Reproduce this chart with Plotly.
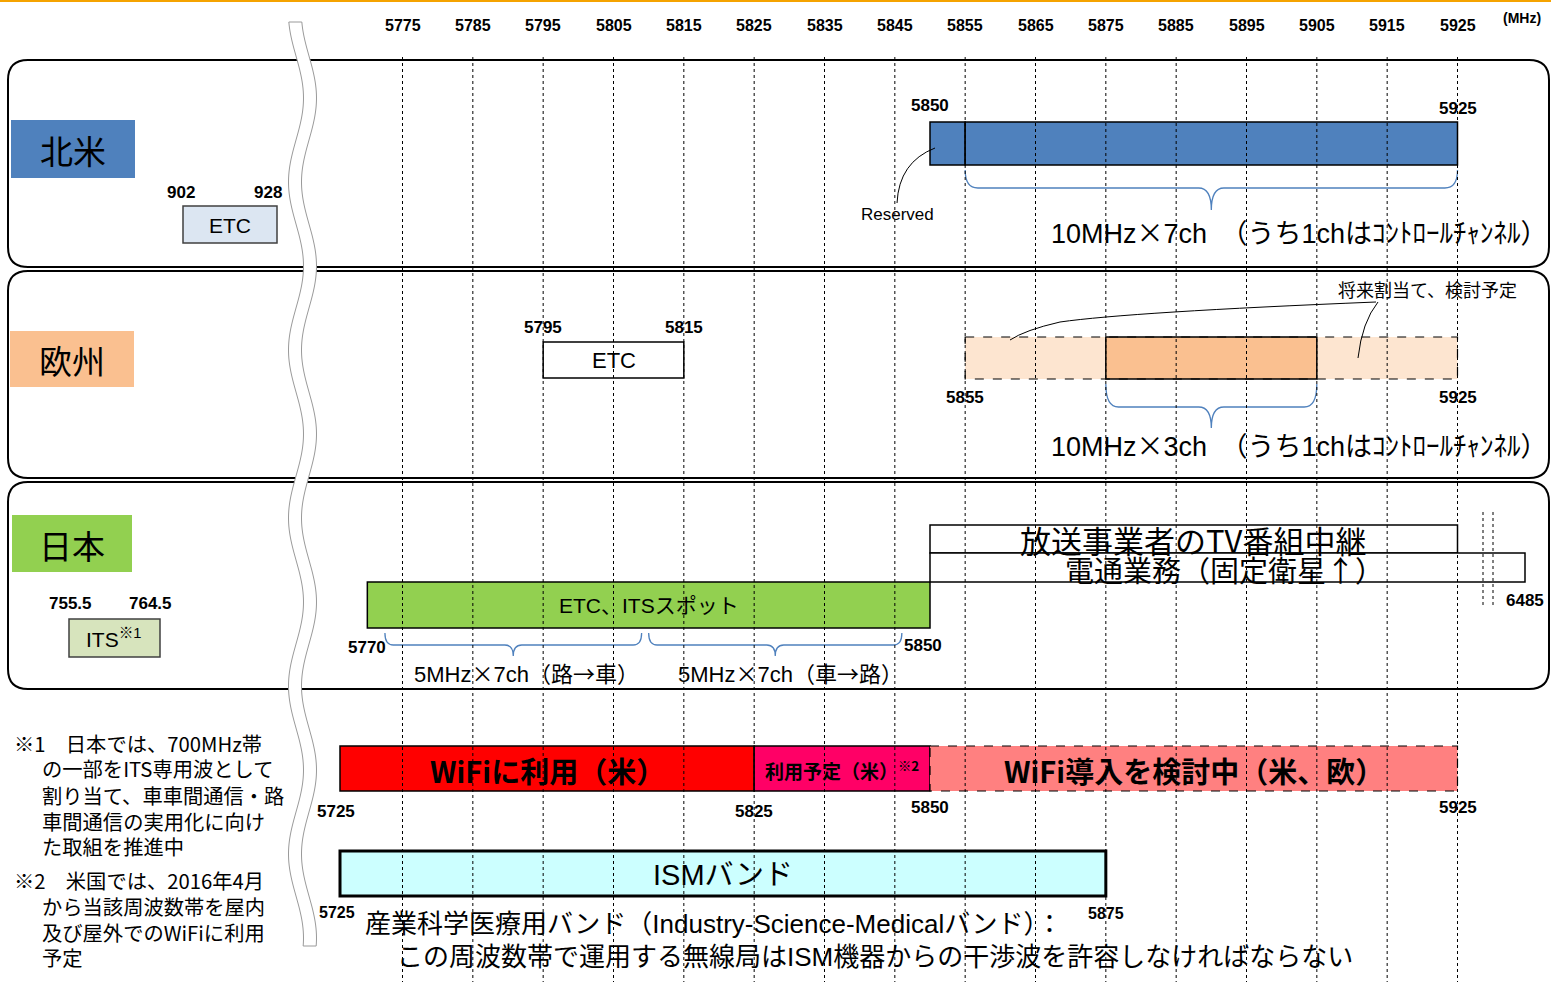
import numpy as np
import plotly.graph_objects as go

# ---------------- data ----------------
TICKS = [5775, 5785, 5795, 5805, 5815, 5825, 5835, 5845, 5855, 5865, 5875, 5885, 5895, 5905, 5915, 5925]
UNIT = "(MHz)"

REGIONS = ["北米", "欧州", "日本"]

TIMES = '<span style="font-family:Noto Sans CJK JP">×</span>'
ARROW = '<span style="font-family:Noto Sans CJK JP">→</span>'

NA_ETC_LOW = [902, 928]
NA_RESERVED = [5850, 5855]
NA_DSRC = [5855, 5925]
NA_CH_TEXT = "10MHz" + TIMES + "7ch　（うち1chはｺﾝﾄﾛｰﾙﾁｬﾝﾈﾙ）"

EU_ETC = [5795, 5815]
EU_CANDIDATE = [5855, 5925]
EU_DSRC = [5875, 5905]
EU_CH_TEXT = "10MHz" + TIMES + "3ch　（うち1chはｺﾝﾄﾛｰﾙﾁｬﾝﾈﾙ）"
EU_NOTE = "将来割当て、検討予定"

JP_ITS_700 = [755.5, 764.5]
JP_ETC = [5770, 5850]
JP_DOWNLINK = [5772.5, 5809]
JP_UPLINK = [5810, 5846]
JP_TV_RELAY = [5850, 5925]
JP_SATELLITE = [5850, 6485]
JP_TEXTS = ["ETC、ITSスポット",
            "5MHz" + TIMES + "7ch（路" + ARROW + "車）",
            "5MHz" + TIMES + "7ch（車" + ARROW + "路）",
            "放送事業者のTV番組中継", "電通業務（固定衛星↑）"]

WIFI_US = [5725, 5825]
WIFI_US_PLAN = [5825, 5850]
WIFI_STUDY = [5850, 5925]
WIFI_TEXTS = ["WiFiに利用（米）", "利用予定（米）<sup>※2</sup>", "WiFi導入を検討中（米、欧）"]

ISM = [5725, 5875]
ISM_TEXTS = ["ISMバンド",
             "産業科学医療用バンド（Industry-Science-Medicalバンド）：",
             "この周波数帯で運用する無線局はISM機器からの干渉波を許容しなければならない"]

FOOTNOTES = [("※1　日本では、700MHz帯", 0), ("の一部をITS専用波として", 1), ("割り当て、車車間通信・路", 1),
             ("車間通信の実用化に向け", 1), ("た取組を推進中", 1),
             ("※2　米国では、2016年4月", 0), ("から当該周波数帯を屋内", 1), ("及び屋外でのWiFiに利用", 1),
             ("予定", 1)]

# ---------------- scale (broken axis) ----------------
W, H = 1551, 982
PX0, PXM = 402.5, (1457.5 - 402.5) / 150.0


def PX(px):
    """pixel -> axis coordinate (for decorative layout only)"""
    return 5775 + (px - PX0) / PXM


LOW_BREAK, HIGH_BREAK = 5770, 5930
LOW_K = (LOW_BREAK - PX(340)) / (LOW_BREAK - 5725)
HIGH_K = (PX(1525) - HIGH_BREAK) / (6485 - HIGH_BREAK)


def X(f):
    """frequency -> axis coordinate, compressed beyond the breaks"""
    if f < LOW_BREAK:
        return LOW_BREAK - (LOW_BREAK - f) * LOW_K
    if f > HIGH_BREAK:
        return HIGH_BREAK + (f - HIGH_BREAK) * HIGH_K
    return f


FN = "Liberation Sans, Arial, Noto Sans CJK JP"
FJ = "Noto Sans CJK JP, Liberation Sans"

fig = go.Figure()
shapes = []
anns = []


def bar(band, y0, y1, fill, line="black", lw=1.5):
    a, b = X(band[0]), X(band[1])
    fig.add_trace(go.Bar(orientation="h", y=[(y0 + y1) / 2], x=[b - a], base=[a], width=[y1 - y0],
                         marker=dict(color=fill, line=dict(color=line, width=lw)),
                         hoverinfo="skip", showlegend=False))


def rect(x0, x1, y0, y1, fill="rgba(0,0,0,0)", line="black", lw=1.5, dash="solid", layer="above"):
    shapes.append(dict(type="rect", xref="x", yref="y", x0=x0, x1=x1, y0=y0, y1=y1,
                       fillcolor=fill, line=dict(color=line, width=lw, dash=dash), layer=layer))


def path(d, line="black", lw=1, fill=None, layer="above"):
    s = dict(type="path", xref="x", yref="y", path=d, line=dict(color=line, width=lw), layer=layer)
    if fill:
        s["fillcolor"] = fill
    shapes.append(s)


def ann(x, y, text, size, font=FN, bold=False, xanchor="center", color="black"):
    anns.append(dict(x=x, y=y, xref="x", yref="y", text=("<b>%s</b>" % text) if bold else text,
                     showarrow=False, xanchor=xanchor, yanchor="middle",
                     font=dict(family=font, size=size, color=color)))


def rrect(px0, py0, px1, py1, r=20):
    x0, x1 = PX(px0), PX(px1)
    rx = r / PXM
    return (f"M{x0+rx},{py0} L{x1-rx},{py0} Q{x1},{py0} {x1},{py0+r} L{x1},{py1-r} "
            f"Q{x1},{py1} {x1-rx},{py1} L{x0+rx},{py1} Q{x0},{py1} {x0},{py1-r} "
            f"L{x0},{py0+r} Q{x0},{py0} {x0+rx},{py0} Z")


def brace(band, y0, y1, y2, r=1.8):
    a, b = X(band[0]), X(band[1])
    m = (a + b) / 2
    return (f"M{a},{y0} Q{a},{y1} {a+r},{y1} L{m-r},{y1} Q{m},{y1} {m},{y2} "
            f"Q{m},{y1} {m+r},{y1} L{b-r},{y1} Q{b},{y1} {b},{y0}")


BLUE = "#4F81BD"

# top orange rule
shapes.append(dict(type="line", xref="x", yref="y", x0=PX(0), x1=PX(W), y0=1, y1=1,
                   line=dict(color="#F5A300", width=2)))

# panels
for (py0, py1) in [(60, 267), (271, 478), (482, 689)]:
    path(rrect(8, py0, 1549, py1), line="black", lw=2, fill="white", layer="below")

# region label boxes
REG_BOX = [(11, 135, 120, 178, BLUE), (10, 134, 331, 387, "#FAC090"), (12, 132, 515, 572, "#92D050")]
for name, (a, b, c, d, col) in zip(REGIONS, REG_BOX):
    rect(PX(a), PX(b), c, d, fill=col, line=col, lw=0, layer="below")
    ann(PX((a + b) / 2), (c + d) / 2 + 1, name, 33, font=FJ)

# header tick labels
for t in TICKS:
    ann(t, 25, str(t), 16, bold=True)
ann(PX(1522), 18, UNIT, 14, bold=True)

# ---------- North America ----------
rect(PX(183), PX(277), 206, 243, fill="#DCE6F2", line="#404040", lw=1.5, layer="below")
ann(PX(230), 225, "ETC", 21)
ann(PX(181), 192, str(NA_ETC_LOW[0]), 17, bold=True)
ann(PX(268), 192, str(NA_ETC_LOW[1]), 17, bold=True)
bar(NA_RESERVED, 122, 165, BLUE)
bar(NA_DSRC, 122, 165, BLUE)
ann(X(NA_RESERVED[0]), 105, str(NA_RESERVED[0]), 17, bold=True)
ann(X(NA_DSRC[1]), 108, str(NA_DSRC[1]), 17, bold=True)
path(f"M{PX(897)},203 Q{PX(899)},162 {PX(935)},148", lw=1)
ann(PX(897), 214, "Reserved", 17)
path(brace(NA_DSRC, 170, 188, 210), line=BLUE, lw=1.3)
ann(PX(1299), 231, NA_CH_TEXT, 27)

# ---------- Europe ----------
bar(EU_ETC, 342, 378, "white")
ann(X(sum(EU_ETC) / 2), 360, "ETC", 22)
ann(X(EU_ETC[0]), 327, str(EU_ETC[0]), 17, bold=True)
ann(X(EU_ETC[1]), 327, str(EU_ETC[1]), 17, bold=True)
bar(EU_CANDIDATE, 337, 379, "#FDE5D0", line="rgba(0,0,0,0)", lw=0)
rect(X(EU_CANDIDATE[0]), X(EU_CANDIDATE[1]), 337, 379, lw=1.2, dash="dash")
bar(EU_DSRC, 337, 379, "#FAC090")
ann(X(EU_CANDIDATE[0]), 397, str(EU_CANDIDATE[0]), 17, bold=True)
ann(X(EU_CANDIDATE[1]), 397, str(EU_CANDIDATE[1]), 17, bold=True)
path(brace(EU_DSRC, 384, 407, 428), line=BLUE, lw=1.3)
ann(PX(1299), 444, EU_CH_TEXT, 27)
ann(PX(1427), 289, EU_NOTE, 18, font=FJ)
path(f"M{PX(1376)},302 Q{PX(1130)},312 {PX(1060)},322 Q{PX(1025)},330 {PX(1010)},340", lw=1)
path(f"M{PX(1378)},302 Q{PX(1362)},322 {PX(1358)},358", lw=1)

# ---------- Japan ----------
rect(PX(69), PX(160), 619, 657, fill="#D7E4BD", line="#404040", lw=1.5, layer="below")
ann(PX(114), 638, "ITS<sup>※1</sup>", 21)
ann(PX(70), 603, str(JP_ITS_700[0]), 17, bold=True)
ann(PX(150), 603, str(JP_ITS_700[1]), 17, bold=True)
bar(JP_ETC, 582, 628, "#92D050")
ann(X(sum(JP_ETC) / 2), 605, JP_TEXTS[0], 21)
ann(X(JP_ETC[0]), 647, str(JP_ETC[0]), 17, bold=True)
ann(X(JP_ETC[1]) - 1, 645, str(JP_ETC[1]), 17, bold=True)
path(brace(JP_DOWNLINK, 633, 645, 656, r=1.2), line=BLUE, lw=1.3)
path(brace(JP_UPLINK, 633, 645, 656, r=1.2), line=BLUE, lw=1.3)
ann(PX(526), 672, JP_TEXTS[1], 22)
ann(PX(790), 672, JP_TEXTS[2], 22)
bar(JP_TV_RELAY, 525, 553, "white")
bar(JP_SATELLITE, 553, 582, "white")
ann(PX(1193), 539, JP_TEXTS[3], 31, font=FJ)
ann(PX(1224), 569, JP_TEXTS[4], 29, font=FJ)
for bx in (1483, 1493):
    shapes.append(dict(type="line", xref="x", yref="y", x0=PX(bx), x1=PX(bx), y0=512, y1=605,
                       line=dict(color="black", width=1, dash="dot")))
ann(X(JP_SATELLITE[1]), 600, str(JP_SATELLITE[1]), 17, bold=True)

# ---------- WiFi ----------
bar(WIFI_US, 746, 791, "#FF0000")
bar(WIFI_US_PLAN, 746, 791, "#FF0066")
bar(WIFI_STUDY, 746, 791, "#FF8080", line="rgba(0,0,0,0)", lw=0)
rect(X(WIFI_STUDY[0]), X(WIFI_STUDY[1]), 746, 791, lw=1.2, dash="dash")
ann((X(WIFI_US[0]) + X(WIFI_US[1])) / 2, 770, WIFI_TEXTS[0], 29, font=FJ, bold=True)
ann((X(WIFI_US_PLAN[0]) + X(WIFI_US_PLAN[1])) / 2, 770, WIFI_TEXTS[1], 19, font=FJ, bold=True)
ann((X(WIFI_STUDY[0]) + X(WIFI_STUDY[1])) / 2, 770, WIFI_TEXTS[2], 29, font=FJ, bold=True)
ann(X(WIFI_US[0]) - 4 / PXM, 811, str(WIFI_US[0]), 17, bold=True)
ann(X(WIFI_US[1]), 811, str(WIFI_US[1]), 17, bold=True)
ann(X(WIFI_STUDY[0]), 807, str(WIFI_STUDY[0]), 17, bold=True)
ann(X(WIFI_STUDY[1]), 807, str(WIFI_STUDY[1]), 17, bold=True)

# ---------- ISM ----------
bar(ISM, 851, 896, "#CCFFFF", lw=3)
ann((X(ISM[0]) + X(ISM[1])) / 2, 875, ISM_TEXTS[0], 29, font=FN)
ann(X(ISM[0]) - 3 / PXM, 912, str(ISM[0]), 16, bold=True)
ann(X(ISM[1]), 913, str(ISM[1]), 16, bold=True)
ann(PX(714), 924, ISM_TEXTS[1], 26)
ann(PX(875), 957, ISM_TEXTS[2], 26)

# ---------- footnotes ----------
fy = [743, 768, 795, 821, 846, 880, 906, 932, 957]
for (txt, ind), yy in zip(FOOTNOTES, fy):
    ann(PX(12 if ind == 0 else 40), yy, txt, 20.3, font=FJ, xanchor="left")

# gridlines (dotted) above bars
for t in TICKS:
    shapes.append(dict(type="line", xref="x", yref="y", x0=t, x1=t, y0=57, y1=H,
                       line=dict(color="black", width=1, dash="dot"), layer="above"))

# wavy axis-break band
ys = np.arange(22, 949, 3.0)
xc = 302.5 - 7.5 * np.cos(2 * np.pi * (ys - 182) / 168)
left = [(PX(x - 6.5), y) for x, y in zip(xc, ys)]
right = [(PX(x + 6.5), y) for x, y in zip(xc[::-1], ys[::-1])]
pts = left + right
d = "M" + " L".join(f"{a:.4f},{b:.1f}" for a, b in pts) + " Z"
path(d, line="#9A9A9A", lw=1, fill="white")

fig.update_layout(
    width=W, height=H, margin=dict(l=0, r=0, t=0, b=0),
    paper_bgcolor="white", plot_bgcolor="white",
    barmode="overlay", showlegend=False, hovermode=False,
    xaxis=dict(range=[PX(0), PX(W)], visible=False, fixedrange=True),
    yaxis=dict(range=[H, 0], visible=False, fixedrange=True),
    shapes=shapes, annotations=anns,
)

fig.write_html("out.html", config={"displayModeBar": False},
               post_script="document.body.style.margin='0px';")
